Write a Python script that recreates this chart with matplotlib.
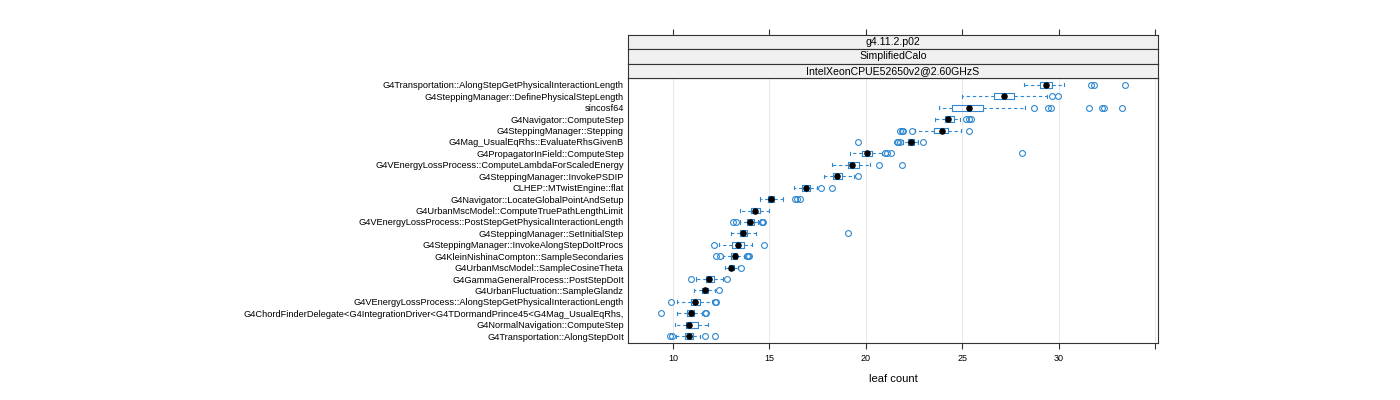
import matplotlib
matplotlib.use("Agg")
import matplotlib.pyplot as plt
import numpy as np

plt.rcParams['font.family'] = ['Liberation Sans', 'DejaVu Sans']

categories = [
    "G4Transportation::AlongStepGetPhysicalInteractionLength",
    "G4SteppingManager::DefinePhysicalStepLength",
    "sincosf64",
    "G4Navigator::ComputeStep",
    "G4SteppingManager::Stepping",
    "G4Mag_UsualEqRhs::EvaluateRhsGivenB",
    "G4PropagatorInField::ComputeStep",
    "G4VEnergyLossProcess::ComputeLambdaForScaledEnergy",
    "G4SteppingManager::InvokePSDIP",
    "CLHEP::MTwistEngine::flat",
    "G4Navigator::LocateGlobalPointAndSetup",
    "G4UrbanMscModel::ComputeTruePathLengthLimit",
    "G4VEnergyLossProcess::PostStepGetPhysicalInteractionLength",
    "G4SteppingManager::SetInitialStep",
    "G4SteppingManager::InvokeAlongStepDoItProcs",
    "G4KleinNishinaCompton::SampleSecondaries",
    "G4UrbanMscModel::SampleCosineTheta",
    "G4GammaGeneralProcess::PostStepDoIt",
    "G4UrbanFluctuation::SampleGlandz",
    "G4VEnergyLossProcess::AlongStepGetPhysicalInteractionLength",
    "G4ChordFinderDelegate<G4IntegrationDriver<G4TDormandPrince45<G4Mag_UsualEqRhs,",
    "G4NormalNavigation::ComputeStep",
    "G4Transportation::AlongStepDoIt",
]

whisker_low = [28.20, 24.95, 23.78, 23.59, 22.55, 21.92, 19.15, 18.24, 17.80, 16.27, 14.52, 13.49,
               13.45, 13.00, 12.37, 12.60, 12.68, 11.18, 11.08, 10.23, 10.22, 10.12, 10.17]
q1 = [29.00, 26.62, 24.45, 24.10, 23.50, 22.18, 19.80, 19.06, 18.27, 16.71, 14.94, 14.03,
      13.81, 13.45, 13.07, 13.00, 12.88, 11.69, 11.51, 10.91, 10.75, 10.67, 10.63]
medians = [29.31, 27.13, 25.36, 24.26, 23.92, 22.33, 20.04, 19.30, 18.52, 16.90, 15.09, 14.23,
           14.01, 13.65, 13.37, 13.19, 13.02, 11.89, 11.67, 11.16, 10.91, 10.84, 10.82]
q3 = [29.62, 27.66, 26.08, 24.57, 24.23, 22.50, 20.30, 19.62, 18.76, 17.10, 15.25, 14.49,
      14.18, 13.86, 13.66, 13.34, 13.17, 12.11, 11.83, 11.42, 11.08, 11.32, 11.04]
whisker_high = [30.24, 29.38, 28.25, 24.85, 24.93, 22.72, 20.85, 20.21, 19.40, 17.45, 15.70, 14.96,
                14.42, 14.31, 14.12, 13.67, 13.36, 12.58, 12.17, 12.00, 11.50, 11.82, 11.42]
outliers = [
    [31.65, 31.80, 33.42],
    [29.62, 29.97],
    [28.68, 29.43, 29.59, 31.56, 32.22, 32.35, 33.25],
    [25.20, 25.33, 25.43],
    [21.78, 21.86, 21.93, 22.37, 25.35],
    [19.58, 21.62, 21.68, 21.74, 22.93],
    [21.00, 21.10, 21.32, 28.10],
    [20.68, 21.87],
    [19.57],
    [17.66, 18.26],
    [16.30, 16.44, 16.58],
    [],
    [13.09, 13.27, 14.60, 14.63, 14.66],
    [19.08],
    [12.11, 14.70],
    [12.25, 12.42, 13.86, 13.90, 13.93],
    [13.51],
    [10.91, 12.81],
    [12.38],
    [9.90, 12.17, 12.22],
    [9.36, 11.68, 11.72],
    [],
    [9.84, 9.95, 11.68, 12.19],
]

strip_labels = ["g4.11.2.p02", "SimplifiedCalo", "IntelXeonCPUE52650v2@2.60GHzS"]
xticks = [10, 15, 20, 25, 30, 35]
xticklabels = ["10", "15", "20", "25", "30", ""]
xlabel = "leaf count"

BLUE = "#2f88d0"
W, H = 1400, 400
fig = plt.figure(figsize=(14, 4), dpi=100)

# panel geometry (pixels)
pl, pr, pt, pb = 628, 1158, 78, 343
ax = fig.add_axes([pl / W, (H - pb) / H, (pr - pl) / W, (pb - pt) / H])

n = len(categories)
positions = np.arange(n, 0, -1)
stats = []
for i in range(n):
    stats.append(dict(med=medians[i], q1=q1[i], q3=q3[i],
                      whislo=whisker_low[i], whishi=whisker_high[i],
                      fliers=outliers[i], label=categories[i]))

ax.bxp(stats, positions=positions, orientation='horizontal', widths=0.5,
       capwidths=0.28, showfliers=True,
       boxprops=dict(color=BLUE, linewidth=0.8),
       whiskerprops=dict(color=BLUE, linewidth=0.8, linestyle=(0, (3, 2.5))),
       capprops=dict(color=BLUE, linewidth=0.8),
       medianprops=dict(visible=False),
       flierprops=dict(marker='o', markerfacecolor='none', markeredgecolor=BLUE,
                       markersize=4.2, markeredgewidth=0.8, linestyle='none'))
ax.plot(medians, positions, 'o', color='black', markersize=3.7, zorder=5)

xlim = (7.67, 35.13)
ax.set_xlim(*xlim)
ax.set_ylim(0.4, n + 0.6)
ax.set_yticks(positions)
ax.set_yticklabels(categories, fontsize=6.65)
ax.tick_params(axis='y', length=0, pad=3)
ax.set_xticks(xticks)
ax.set_xticklabels(xticklabels, fontsize=6.5)
ax.tick_params(axis='x', direction='out', length=4, width=0.8, pad=4, color='#333333')
for x in xticks:
    ax.axvline(x, color='#e8e8e8', linewidth=0.7, zorder=0)
for s in ax.spines.values():
    s.set_color('#333333')
    s.set_linewidth(0.8)
ax.set_xlabel(xlabel, fontsize=8, labelpad=8)

# strips
strip_edges = [34.5, 49.0, 63.5, 78.0]
for k, lab in enumerate(strip_labels):
    top, bot = strip_edges[k], strip_edges[k + 1]
    sax = fig.add_axes([pl / W, (H - bot) / H, (pr - pl) / W, (bot - top) / H])
    sax.set_facecolor('#f0f0f0')
    sax.set_xlim(*xlim)
    sax.set_ylim(0, 1)
    sax.set_yticks([])
    sax.text(0.5, 0.5, lab, transform=sax.transAxes, ha='center', va='center', fontsize=7.6)
    for s in sax.spines.values():
        s.set_color('#333333')
        s.set_linewidth(0.8)
    if k == 0:
        sax.xaxis.tick_top()
        sax.set_xticks(xticks)
        sax.set_xticklabels([])
        sax.tick_params(axis='x', direction='out', length=4, width=0.8, color='#333333')
    else:
        sax.set_xticks([])

fig.savefig("out.png", dpi=100)
